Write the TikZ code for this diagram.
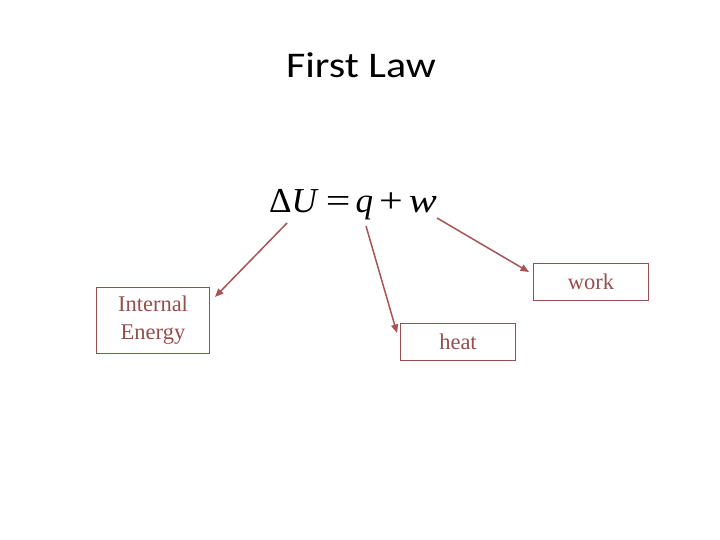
\documentclass[tikz,border=0pt]{standalone}
\usepackage{fontspec}
\setmainfont{Liberation Serif}
\newfontfamily\titlefont{Carlito}
\usetikzlibrary{arrows.meta}
\definecolor{boxred}{RGB}{150,78,78}
\definecolor{arrred}{RGB}{168,84,84}
\tikzset{
  termbox/.style={draw=boxred, line width=0.8pt, text=boxred, font=\fontsize{22.5}{28}\selectfont, align=center, inner sep=0pt},
  pointer/.style={draw=arrred, line width=1.5pt, -{Triangle[length=8.5pt,width=7pt]}}
}
\begin{document}
\begin{tikzpicture}[x=1pt,y=-1pt]
\useasboundingbox (0,0) rectangle (720,540);
\node[anchor=base, font=\titlefont\fontsize{42}{42}\selectfont, inner sep=0pt, yscale=0.86, transform shape] (title) at (361,78) {First Law};
\node[anchor=base, font=\fontsize{35}{35}\selectfont, inner sep=0pt] (eq) at (353,213) {Δ\textit{U}\hspace{7pt}\scalebox{1.25}[1]{=}\hspace{5pt}\textit{q}\hspace{6pt}\scalebox{1.2}[1]{+}\hspace{6pt}\scalebox{1.2}[1]{\textit{w}}};
\node[termbox, minimum width=113pt, minimum height=66pt] (ie) at (153,320) {Internal\\Energy};
\node[termbox, minimum width=115pt, minimum height=37pt] (heat) at (458,342) {heat};
\node[termbox, minimum width=115pt, minimum height=37pt] (work) at (591,281.5) {work};
\coordinate (s1) at (287,223);
\coordinate (e1) at (215,297);
\coordinate (s2) at (366,226);
\coordinate (e2) at (397,333);
\coordinate (s3) at (437,218);
\coordinate (e3) at (529,272);
\draw[pointer] (s1) -- (e1);
\draw[pointer] (s2) -- (e2);
\draw[pointer] (s3) -- (e3);
\end{tikzpicture}
\end{document}
